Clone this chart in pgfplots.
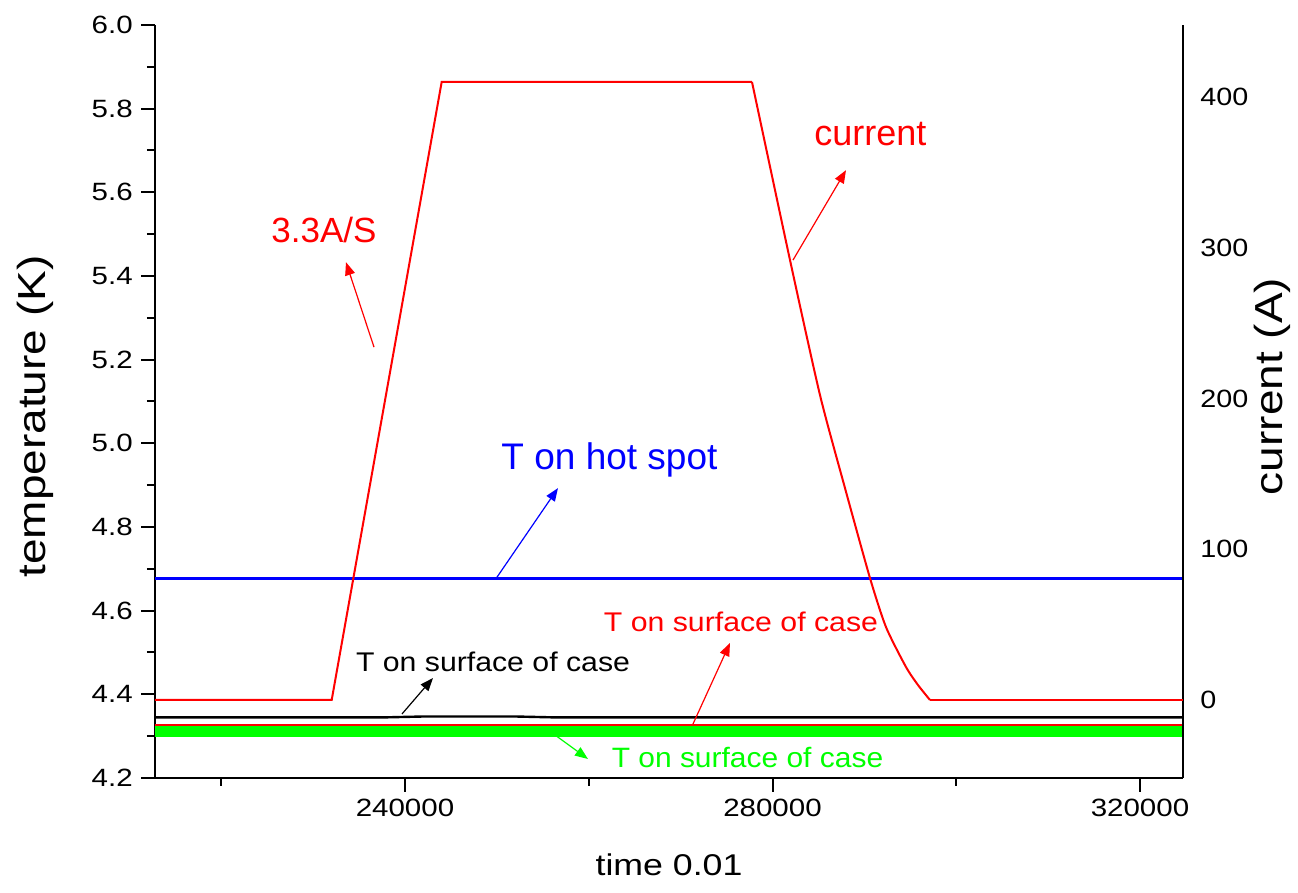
\documentclass[border=0pt]{standalone}
\usepackage{fontspec}
\setmainfont{Liberation Sans}
\usepackage{pgfplots}
\pgfplotsset{compat=1.18}
\usetikzlibrary{arrows.meta}
\tikzset{ann/.style={line width=0.6pt,-{Triangle[length=6.5pt,width=5pt]}}}
\begin{document}
\begin{tikzpicture}
\useasboundingbox (-77.5pt,-57.5pt) rectangle (571.5pt,389pt);
\begin{axis}[
  scale only axis, width=514pt, height=376.5pt,
  at={(0,0)}, anchor=south west,
  xmin=212789, xmax=324680, ymin=4.2, ymax=6.0,
  axis x line*=bottom, axis y line*=left,
  axis line style={line width=1pt,-},
  every tick/.style={black,line width=1pt},
  tick align=outside,
  major tick length=7pt, minor tick length=4pt,
  xtick={240000,280000,320000}, minor xtick={220000,260000,300000},
  xticklabels={240000,280000,320000},
  ytick={4.2,4.4,4.6,4.8,5.0,5.2,5.4,5.6,5.8,6.0},
  yticklabels={4.2,4.4,4.6,4.8,5.0,5.2,5.4,5.6,5.8,6.0},
  minor ytick={4.3,4.5,4.7,4.9,5.1,5.3,5.5,5.7,5.9},
  scaled x ticks=false, scaled y ticks=false,
  tick label style={font=\fontsize{12.5}{15}\selectfont,xscale=1.18},
  xlabel={time 0.01}, ylabel={temperature (K)},
  xlabel style={font=\fontsize{15}{18}\selectfont,xscale=1.19,at={(axis description cs:0.5,-0.1155)},anchor=center},
  ylabel style={font=\fontsize{23}{26}\selectfont,yscale=0.85,at={(axis description cs:-0.1167,0.48)},anchor=center},
]
\addplot[black,line width=1.2pt] coordinates {(212789,4.345) (238000,4.345) (242000,4.347) (252000,4.347) (256000,4.345) (324680,4.345)};
\addplot[red,line width=1.2pt] coordinates {(212789,4.326) (324680,4.326)};
\addplot[green,line width=5.5pt] coordinates {(212789,4.311) (324680,4.311)};
\addplot[blue,line width=1.5pt] coordinates {(212789,4.678) (324680,4.678)};

\node[anchor=base,text=red,font=\fontsize{17.5}{20}\selectfont] at (axis cs:231183,5.479) {3.3A/S};
\draw[ann,red] (axis cs:236625,5.230) -- (axis cs:233577,5.433);
\node[anchor=base,text=red,font=\fontsize{18}{21}\selectfont] at (axis cs:290664,5.713) {current};
\draw[ann,red] (axis cs:282229,5.438) -- (axis cs:288000,5.653);
\node[anchor=base,text=blue,font=\fontsize{18.5}{21}\selectfont] at (axis cs:262256,4.9386) {T on hot spot};
\draw[ann,blue] (axis cs:250012,4.680) -- (axis cs:256651,4.893);
\node[anchor=base,text=black,font=\fontsize{13.5}{15}\selectfont,xscale=1.12] at (axis cs:249577,4.4534) {T on surface of case};
\draw[ann,black] (axis cs:239672,4.353) -- (axis cs:243047,4.439);
\node[anchor=base,text=red,font=\fontsize{13.5}{15}\selectfont,xscale=1.12] at (axis cs:276569,4.549) {T on surface of case};
\draw[ann,red] (axis cs:271345,4.329) -- (axis cs:275372,4.5227);
\node[anchor=base,text=green,font=\fontsize{14}{16}\selectfont,xscale=1.07] at (axis cs:277276,4.2239) {T on surface of case};
\draw[ann,green] (axis cs:256325,4.3028) -- (axis cs:259917,4.2454);
\end{axis}
\begin{axis}[
  scale only axis, width=514pt, height=376.5pt,
  at={(0,0)}, anchor=south west,
  xmin=212789, xmax=324680, ymin=-51.74, ymax=447.76,
  axis x line=none, axis y line*=right,
  axis line style={line width=1pt,-},
  ytick={0,100,200,300,400},
  yticklabels={0,100,200,300,400},
  ytick style={draw=none},
  yticklabel style={font=\fontsize{12.5}{15}\selectfont,xscale=1.15,xshift=4pt},
  ylabel={current (A)},
  ylabel style={font=\fontsize{23}{26}\selectfont,yscale=0.85,at={(axis description cs:1.0866,0.52)},anchor=center},
]
\addplot[red,line width=1pt] coordinates {(212789,0) (232021,0) (243993,410) (277766,410)};
\addplot[red,line width=1pt,smooth,tension=0.4] coordinates {(277766,410) (281902,291.9) (285168,202.3) (287889,140.6) (290610,80.9) (292351,48.4) (294528,21.9) (295834,9.95) (297140,0)};
\addplot[red,line width=1pt] coordinates {(297140,0) (324680,0)};
\end{axis}
\end{tikzpicture}
\end{document}
